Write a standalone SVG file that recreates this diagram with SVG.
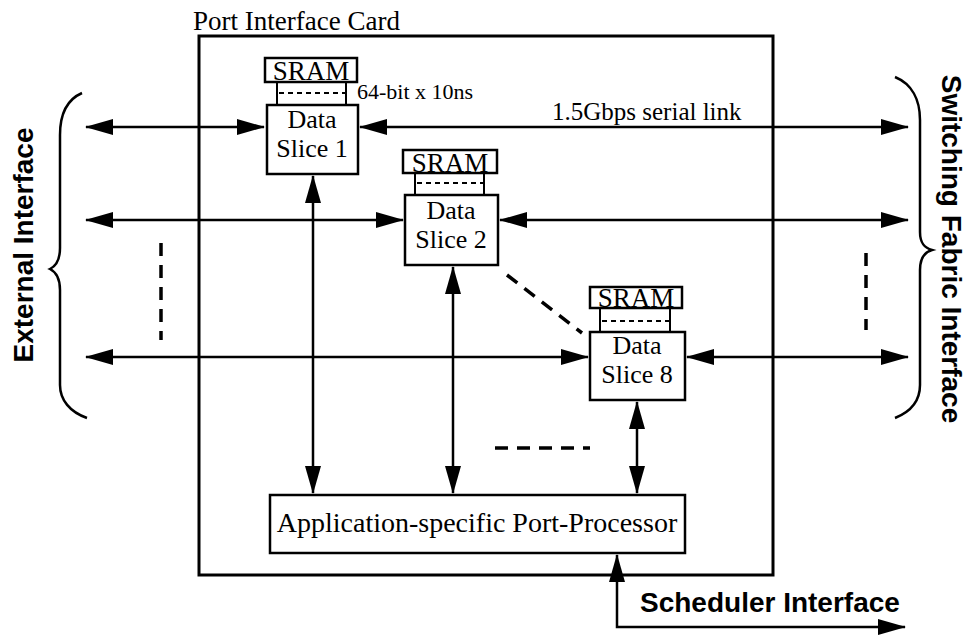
<svg xmlns="http://www.w3.org/2000/svg" width="975" height="638" viewBox="0 0 975 638">
<style>
.box{fill:#fff;stroke:#000;stroke-width:2.5}
.ln{fill:none;stroke:#000;stroke-width:2.5}
.thin{fill:none;stroke:#000;stroke-width:2}
.dsh{fill:none;stroke:#000;stroke-width:2;stroke-dasharray:5 4}
.bigdash{fill:none;stroke:#000;stroke-width:3.5;stroke-dasharray:13 9}
.t{font-family:"Liberation Serif","Times New Roman",serif;fill:#000}
.b{font-family:"Liberation Sans",Arial,sans-serif;font-weight:bold;fill:#000}
</style>
<defs>
<marker id="ah" viewBox="0 0 28 16" markerWidth="28" markerHeight="16" refX="27" refY="8" orient="auto-start-reverse" markerUnits="userSpaceOnUse">
<path d="M0,0 L28,8 L0,16 Z" fill="#000"/>
</marker>
</defs>
<rect width="975" height="638" fill="#fff"/>

<g id="card">
<rect x="199" y="36" width="574" height="539" fill="none" stroke="#000" stroke-width="3"/>
<text class="t" x="193" y="30" font-size="27">Port Interface Card</text>
</g>

<g id="connectors">
<path class="ln" d="M86,127 H264" marker-start="url(#ah)" marker-end="url(#ah)"/>
<path class="ln" d="M360,127 H908" marker-start="url(#ah)" marker-end="url(#ah)"/>
<path class="ln" d="M86,220 H403" marker-start="url(#ah)" marker-end="url(#ah)"/>
<path class="ln" d="M500,220 H908" marker-start="url(#ah)" marker-end="url(#ah)"/>
<path class="ln" d="M86,357 H588" marker-start="url(#ah)" marker-end="url(#ah)"/>
<path class="ln" d="M687,357 H908" marker-start="url(#ah)" marker-end="url(#ah)"/>
<path class="ln" d="M313,176 V493" marker-start="url(#ah)" marker-end="url(#ah)"/>
<path class="ln" d="M453,267 V493" marker-start="url(#ah)" marker-end="url(#ah)"/>
<path class="ln" d="M637,402 V493" marker-start="url(#ah)" marker-end="url(#ah)"/>
<path class="ln" d="M617,555 V627 H905" marker-start="url(#ah)" marker-end="url(#ah)"/>
<path class="bigdash" d="M507,275 L582,333"/>
<path class="bigdash" d="M495,448 H590"/>
<path class="bigdash" d="M161,243 V340"/>
<path class="bigdash" d="M866,253 V330" stroke-dasharray="12 10 4 8 4 10"/>
<text class="t" x="552" y="120" font-size="25">1.5Gbps serial link</text>
<text class="t" x="357" y="99" font-size="22">64-bit x 10ns</text>
</g>

<g id="slice1">
<rect class="box" x="265" y="58" width="92" height="24"/>
<text class="t" x="311" y="80" font-size="27" text-anchor="middle">SRAM</text>
<path class="thin" d="M277,82 V105 M346,82 V105"/>
<path class="dsh" d="M279,93 H345"/>
<rect class="box" x="267" y="105" width="91" height="69"/>
<text class="t" x="312" y="128" font-size="26" text-anchor="middle">Data</text>
<text class="t" x="312" y="157" font-size="26" text-anchor="middle">Slice 1</text>
</g>

<g id="slice2">
<rect class="box" x="403" y="150" width="94" height="23"/>
<text class="t" x="450" y="172" font-size="27" text-anchor="middle">SRAM</text>
<path class="thin" d="M415,173 V195 M484,173 V195"/>
<path class="dsh" d="M417,183 H483"/>
<rect class="box" x="405" y="195" width="93" height="70"/>
<text class="t" x="451" y="219" font-size="26" text-anchor="middle">Data</text>
<text class="t" x="451" y="248" font-size="26" text-anchor="middle">Slice 2</text>
</g>

<g id="slice8">
<rect class="box" x="590" y="287" width="92" height="21"/>
<text class="t" x="636" y="307" font-size="27" text-anchor="middle">SRAM</text>
<path class="thin" d="M600,308 V332 M670,308 V332"/>
<path class="dsh" d="M602,321 H669"/>
<rect class="box" x="590" y="332" width="95" height="68"/>
<text class="t" x="637" y="354" font-size="26" text-anchor="middle">Data</text>
<text class="t" x="637" y="383" font-size="26" text-anchor="middle">Slice 8</text>
</g>

<g id="processor">
<rect class="box" x="270" y="495" width="415" height="58" stroke-width="3"/>
<text class="t" x="477" y="532" font-size="28" text-anchor="middle">Application-specific Port-Processor</text>
</g>

<g id="external">
<path class="ln" d="M82,93 C66,100 60,115 60,135 V248 C60,260 56,266 50,269 C56,272 60,278 60,290 V385 C60,400 70,412 87,418"/>
<text class="b" font-size="28" text-anchor="middle" transform="translate(33,245) rotate(-90)">External Interface</text>
</g>

<g id="switching">
<path class="ln" d="M895,77 C912,84 920,100 920,120 V232 C920,244 925,248 932,250 C925,252 920,258 920,270 V385 C920,402 910,412 895,418"/>
<text class="b" font-size="28" text-anchor="middle" transform="translate(942,249) rotate(90)">Switching Fabric Interface</text>
</g>

<g id="scheduler">
<text class="b" x="640" y="612" font-size="28">Scheduler Interface</text>
</g>
</svg>
